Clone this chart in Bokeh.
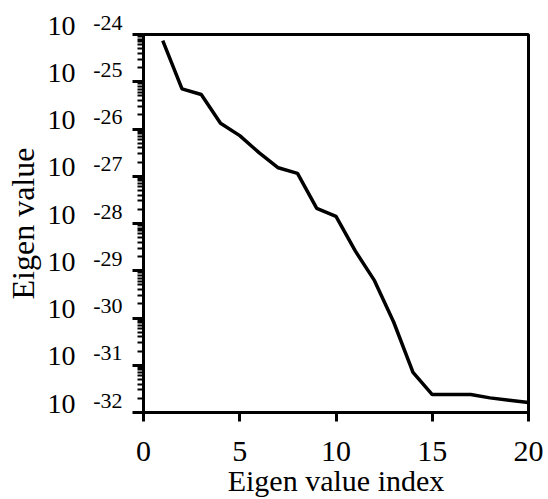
from bokeh.plotting import figure
from bokeh.models import Range1d, FixedTicker, LogAxis
from bokeh.embed import file_html
from bokeh.resources import INLINE

# ---- data ----
eig_index = [1, 2, 3, 4, 5, 6, 7, 8, 9, 10, 11, 12, 13, 14, 15, 16, 17, 18, 19, 20]
eig_value = [7.41e-25, 7.08e-26, 5.37e-26, 1.32e-26, 7.24e-27, 3.16e-27, 1.51e-27,
             1.15e-27, 2.09e-28, 1.41e-28, 2.63e-29, 6.17e-30, 8.13e-31, 7.08e-32,
             2.40e-32, 2.40e-32, 2.40e-32, 2.04e-32, 1.82e-32, 1.62e-32]
x_ticks = [0, 5, 10, 15, 20]
y_ticks = [1e-24, 1e-25, 1e-26, 1e-27, 1e-28, 1e-29, 1e-30, 1e-31, 1e-32]
y_tick_base = ["10"] * 9
y_tick_exponents = ["-24", "-25", "-26", "-27", "-28", "-29", "-30", "-31", "-32"]
y_minor_ticks = [m * t for t in y_ticks[1:] for m in (2, 3, 4, 5, 6, 7, 8, 9)]

FONT = "Liberation Serif"

p = figure(width=548, height=499,
           x_range=Range1d(0, 20), y_range=Range1d(1e-32, 1e-24),
           y_axis_type="log", output_backend="svg", toolbar_location=None,
           min_border_left=143, min_border_right=20,
           min_border_top=34, min_border_bottom=87)
p.grid.visible = False
p.outline_line_color = "black"
p.outline_line_width = 3
p.outline_line_alpha = 1.0
p.background_fill_color = "white"
p.border_fill_color = "white"

p.line(eig_index, eig_value, line_color="black", line_width=3.5)

# x axis
xa = p.xaxis[0]
xa.ticker = FixedTicker(ticks=x_ticks)
xa.axis_line_width = 3
xa.axis_line_color = "black"
xa.major_tick_out = 9
xa.major_tick_in = 0
xa.major_tick_line_width = 3
xa.major_tick_line_color = "black"
xa.minor_tick_line_color = None
xa.major_label_text_font = FONT
xa.major_label_text_font_size = "30px"
xa.major_label_text_color = "black"
xa.major_label_standoff = 20
xa.axis_label = "Eigen value index"
xa.axis_label_text_font = FONT
xa.axis_label_text_font_size = "30px"
xa.axis_label_text_font_style = "normal"
xa.axis_label_text_color = "black"
xa.axis_label_standoff = 0

# main y axis: ticks + exponent labels (trailing empty line lifts the text)
ya = p.yaxis[0]
ya.ticker = FixedTicker(ticks=y_ticks, minor_ticks=y_minor_ticks)
ya.major_label_overrides = {t: e + "\n" for t, e in zip(y_ticks, y_tick_exponents)}
ya.axis_line_width = 3
ya.axis_line_color = "black"
ya.major_tick_out = 11
ya.major_tick_in = 0
ya.major_tick_line_width = 3
ya.major_tick_line_color = "black"
ya.minor_tick_out = 6
ya.minor_tick_in = 0
ya.minor_tick_line_width = 2
ya.minor_tick_line_color = "black"
ya.major_label_standoff = 10
ya.major_label_text_font = FONT
ya.major_label_text_font_size = "22px"
ya.major_label_text_line_height = 1.0
ya.major_label_text_color = "black"

# outer y axis: the "10" base of each label, plus the axis title
yb = LogAxis(ticker=FixedTicker(ticks=y_ticks),
             major_label_overrides={t: b + "\n" for t, b in zip(y_ticks, y_tick_base)})
yb.axis_line_color = None
yb.major_tick_line_color = None
yb.minor_tick_line_color = None
yb.major_tick_out = 0
yb.major_tick_in = 0
yb.minor_tick_out = 0
yb.minor_tick_in = 0
yb.major_label_standoff = 15
yb.major_label_text_font = FONT
yb.major_label_text_font_size = "28px"
yb.major_label_text_line_height = 0.6
yb.major_label_text_color = "black"
yb.axis_label = "Eigen value"
yb.axis_label_text_font = FONT
yb.axis_label_text_font_size = "32px"
yb.axis_label_text_font_style = "normal"
yb.axis_label_text_color = "black"
yb.axis_label_standoff = 4
p.add_layout(yb, "left")

open("out.html", "w").write(file_html(p, INLINE))
